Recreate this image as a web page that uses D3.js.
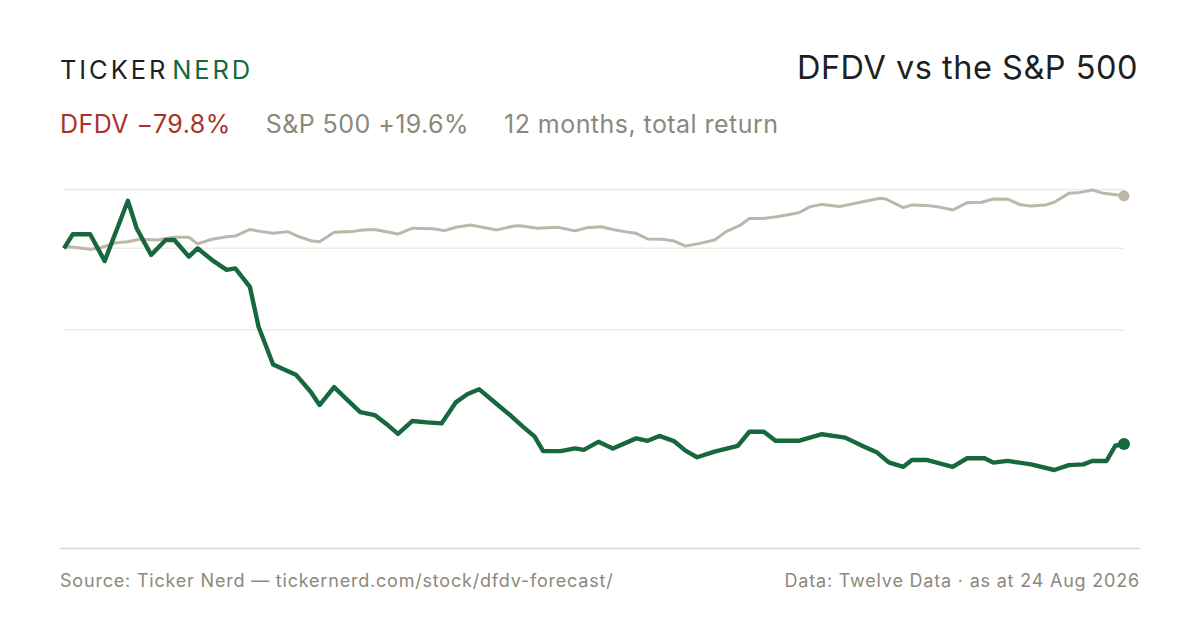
<!DOCTYPE html>
<html>
<head>
<meta charset="utf-8">
<script src="https://cdn.jsdelivr.net/npm/d3@7"></script>
<style>
	html, body { margin: 0; padding: 0; background: #fff; }
	svg { display: block; font-family: Inter, "Liberation Sans", sans-serif; }
</style>
</head>
<body>
<div id="chart"></div>
<script>
// days since 24 Aug 2025, total return in %
var dfdvDays = [0, 3, 9, 14, 22, 25, 30, 35, 38, 43, 46, 51, 56, 59, 64, 67, 72, 80, 85, 88, 93, 98, 102, 107, 111, 115, 120, 125, 130, 135, 139, 143, 149, 154, 158, 162, 165, 171, 176, 179, 184, 189, 197, 201, 205, 210, 214, 218, 224, 232, 236, 241, 245, 253, 261, 269, 275, 280, 284, 289, 292, 297, 306, 311, 317, 320, 325, 333, 341, 346, 351, 354, 359, 362, 365];
var dfdvReturn = [0, 5.7, 5.7, -5.2, 19.4, 8.2, -2.7, 3.4, 3.4, -3.4, 0, -4.8, -8.8, -8.2, -15.7, -32.0, -47.4, -51.7, -58.6, -63.9, -56.6, -62.3, -66.8, -68.0, -71.6, -75.7, -70.4, -71.0, -71.4, -62.7, -59.4, -57.5, -63.5, -68.4, -72.7, -76.7, -82.7, -82.7, -81.6, -82.2, -78.9, -81.6, -77.5, -78.5, -76.5, -78.6, -82.5, -85.2, -82.9, -80.6, -74.8, -74.8, -78.5, -78.5, -75.8, -77.2, -80.6, -83.3, -87.3, -89.1, -86.3, -86.3, -89.1, -85.6, -85.6, -87.4, -86.7, -88.1, -90.4, -88.4, -88.1, -86.7, -86.7, -80.5, -79.8];

var spxDays = [0, 1, 9, 12, 18, 22, 26, 32, 38, 43, 46, 51, 56, 59, 64, 68, 72, 77, 81, 85, 88, 93, 99, 103, 107, 115, 120, 127, 131, 135, 140, 149, 155, 157, 163, 170, 176, 180, 185, 189, 193, 197, 201, 206, 210, 214, 219, 224, 228, 233, 236, 241, 246, 253, 257, 261, 267, 275, 281, 283, 289, 292, 297, 302, 306, 311, 316, 320, 325, 329, 333, 338, 341, 346, 350, 354, 358, 365];
var spxReturn = [0, 0.7, -0.4, 0, 2.3, 2.7, 3.7, 3.4, 4.5, 4.5, 1.8, 3.7, 4.7, 5.0, 7.7, 6.8, 6.1, 6.8, 4.7, 3.1, 2.7, 6.5, 6.8, 7.5, 7.7, 5.8, 8.2, 8.0, 7.2, 8.6, 9.5, 7.5, 9.1, 9.2, 8.2, 8.6, 7.1, 8.4, 8.8, 7.7, 6.8, 6.1, 3.8, 3.7, 3.0, 0.9, 2.0, 3.4, 6.8, 9.5, 12.2, 12.2, 13.0, 14.5, 17.0, 17.9, 17.0, 19.0, 20.4, 20.1, 16.6, 17.7, 17.5, 16.7, 15.6, 18.6, 18.8, 20.1, 20.0, 17.9, 17.2, 17.7, 18.8, 22.4, 22.8, 23.8, 22.4, 21.4];

var gridValues = [24, 0, -33.3];

var headline = [
	{ text: 'DFDV \u221279.8%', color: '#a8322b' },
	{ text: 'S&P 500 +19.6%', color: '#8c887b' },
	{ text: '12 months, total return', color: '#8c887b' }
];

(function() {
	var width = 1200,
		height = 630,
		left = 64,
		right = 1124,
		green = '#17683f',
		grey = '#bdb6aa';

	var start = new Date(2025, 7, 24),
		end = d3.timeDay.offset(start, 365);

	var x = d3.scaleTime()
		.domain([start, end])
		.range([left, right]);

	var y = d3.scaleLinear()
		.domain([-80, 0])
		.range([444.5, 248.3]);

	function toPoints(days, values)
	{
		return days.map(function(d, i) {
			return { date: d3.timeDay.offset(start, d), value: values[i] };
		});
	}

	var dfdv = toPoints(dfdvDays, dfdvReturn),
		spx = toPoints(spxDays, spxReturn);

	var svg = d3.select('#chart')
		.append('svg')
		.attr('width', width)
		.attr('height', height)
		.attr('viewBox', '0 0 ' + width + ' ' + height);

	// header
	var logo = svg.append('text')
		.attr('x', 60)
		.attr('y', 79)
		.attr('font-size', 25.5)
		.attr('letter-spacing', 2.9);

	logo.append('tspan')
		.attr('fill', '#1f1f1f')
		.text('TICKER');

	logo.append('tspan')
		.attr('dx', 4)
		.attr('fill', green)
		.text('NERD');

	svg.append('text')
		.attr('x', 1138)
		.attr('y', 79)
		.attr('text-anchor', 'end')
		.attr('font-size', 32.5)
		.attr('letter-spacing', 0.5)
		.attr('fill', '#1f1f1f')
		.text('DFDV vs the S&P 500');

	var sub = svg.append('text')
		.attr('x', 60)
		.attr('y', 133)
		.attr('font-size', 25)
		.attr('letter-spacing', 0.45);

	sub.selectAll('tspan')
		.data(headline)
		.enter()
		.append('tspan')
		.attr('dx', function(d, i) { return i ? 35 : 0; })
		.attr('fill', function(d) { return d.color; })
		.text(function(d) { return d.text; });

	// grid
	svg.append('g')
		.selectAll('line')
		.data(gridValues)
		.enter()
		.append('line')
		.attr('x1', left)
		.attr('x2', right)
		.attr('y1', function(d) { return y(d); })
		.attr('y2', function(d) { return y(d); })
		.attr('stroke', '#eeebe6')
		.attr('stroke-width', 1.5);

	svg.append('line')
		.attr('x1', 60)
		.attr('x2', 1140)
		.attr('y1', 548.5)
		.attr('y2', 548.5)
		.attr('stroke', '#dedad0')
		.attr('stroke-width', 1.5);

	var line = d3.line()
		.x(function(d) { return x(d.date); })
		.y(function(d) { return y(d.value); });

	svg.append('path')
		.datum(spx)
		.attr('fill', 'none')
		.attr('stroke', grey)
		.attr('stroke-width', 3)
		.attr('stroke-linejoin', 'round')
		.attr('d', line);

	svg.append('path')
		.datum(dfdv)
		.attr('fill', 'none')
		.attr('stroke', green)
		.attr('stroke-width', 4.4)
		.attr('stroke-linejoin', 'round')
		.attr('d', line);

	svg.append('g')
		.selectAll('circle')
		.data([
			{ p: spx[spx.length - 1], c: grey, r: 5.5 },
			{ p: dfdv[dfdv.length - 1], c: green, r: 6 }
		])
		.enter()
		.append('circle')
		.attr('cx', function(d) { return x(d.p.date); })
		.attr('cy', function(d) { return y(d.p.value); })
		.attr('r', function(d) { return d.r; })
		.attr('fill', function(d) { return d.c; });

	// footer
	var foot = svg.append('g')
		.attr('font-size', 18)
		.attr('letter-spacing', 0.8)
		.attr('fill', '#8c887b');

	foot.append('text')
		.attr('x', 60)
		.attr('y', 587)
		.text('Source: Ticker Nerd \u2014 tickernerd.com/stock/dfdv-forecast/');

	foot.append('text')
		.attr('x', 1140)
		.attr('y', 587)
		.attr('text-anchor', 'end')
		.text('Data: Twelve Data \u00b7 as at 24 Aug 2026');
})();
</script>
</body>
</html>
